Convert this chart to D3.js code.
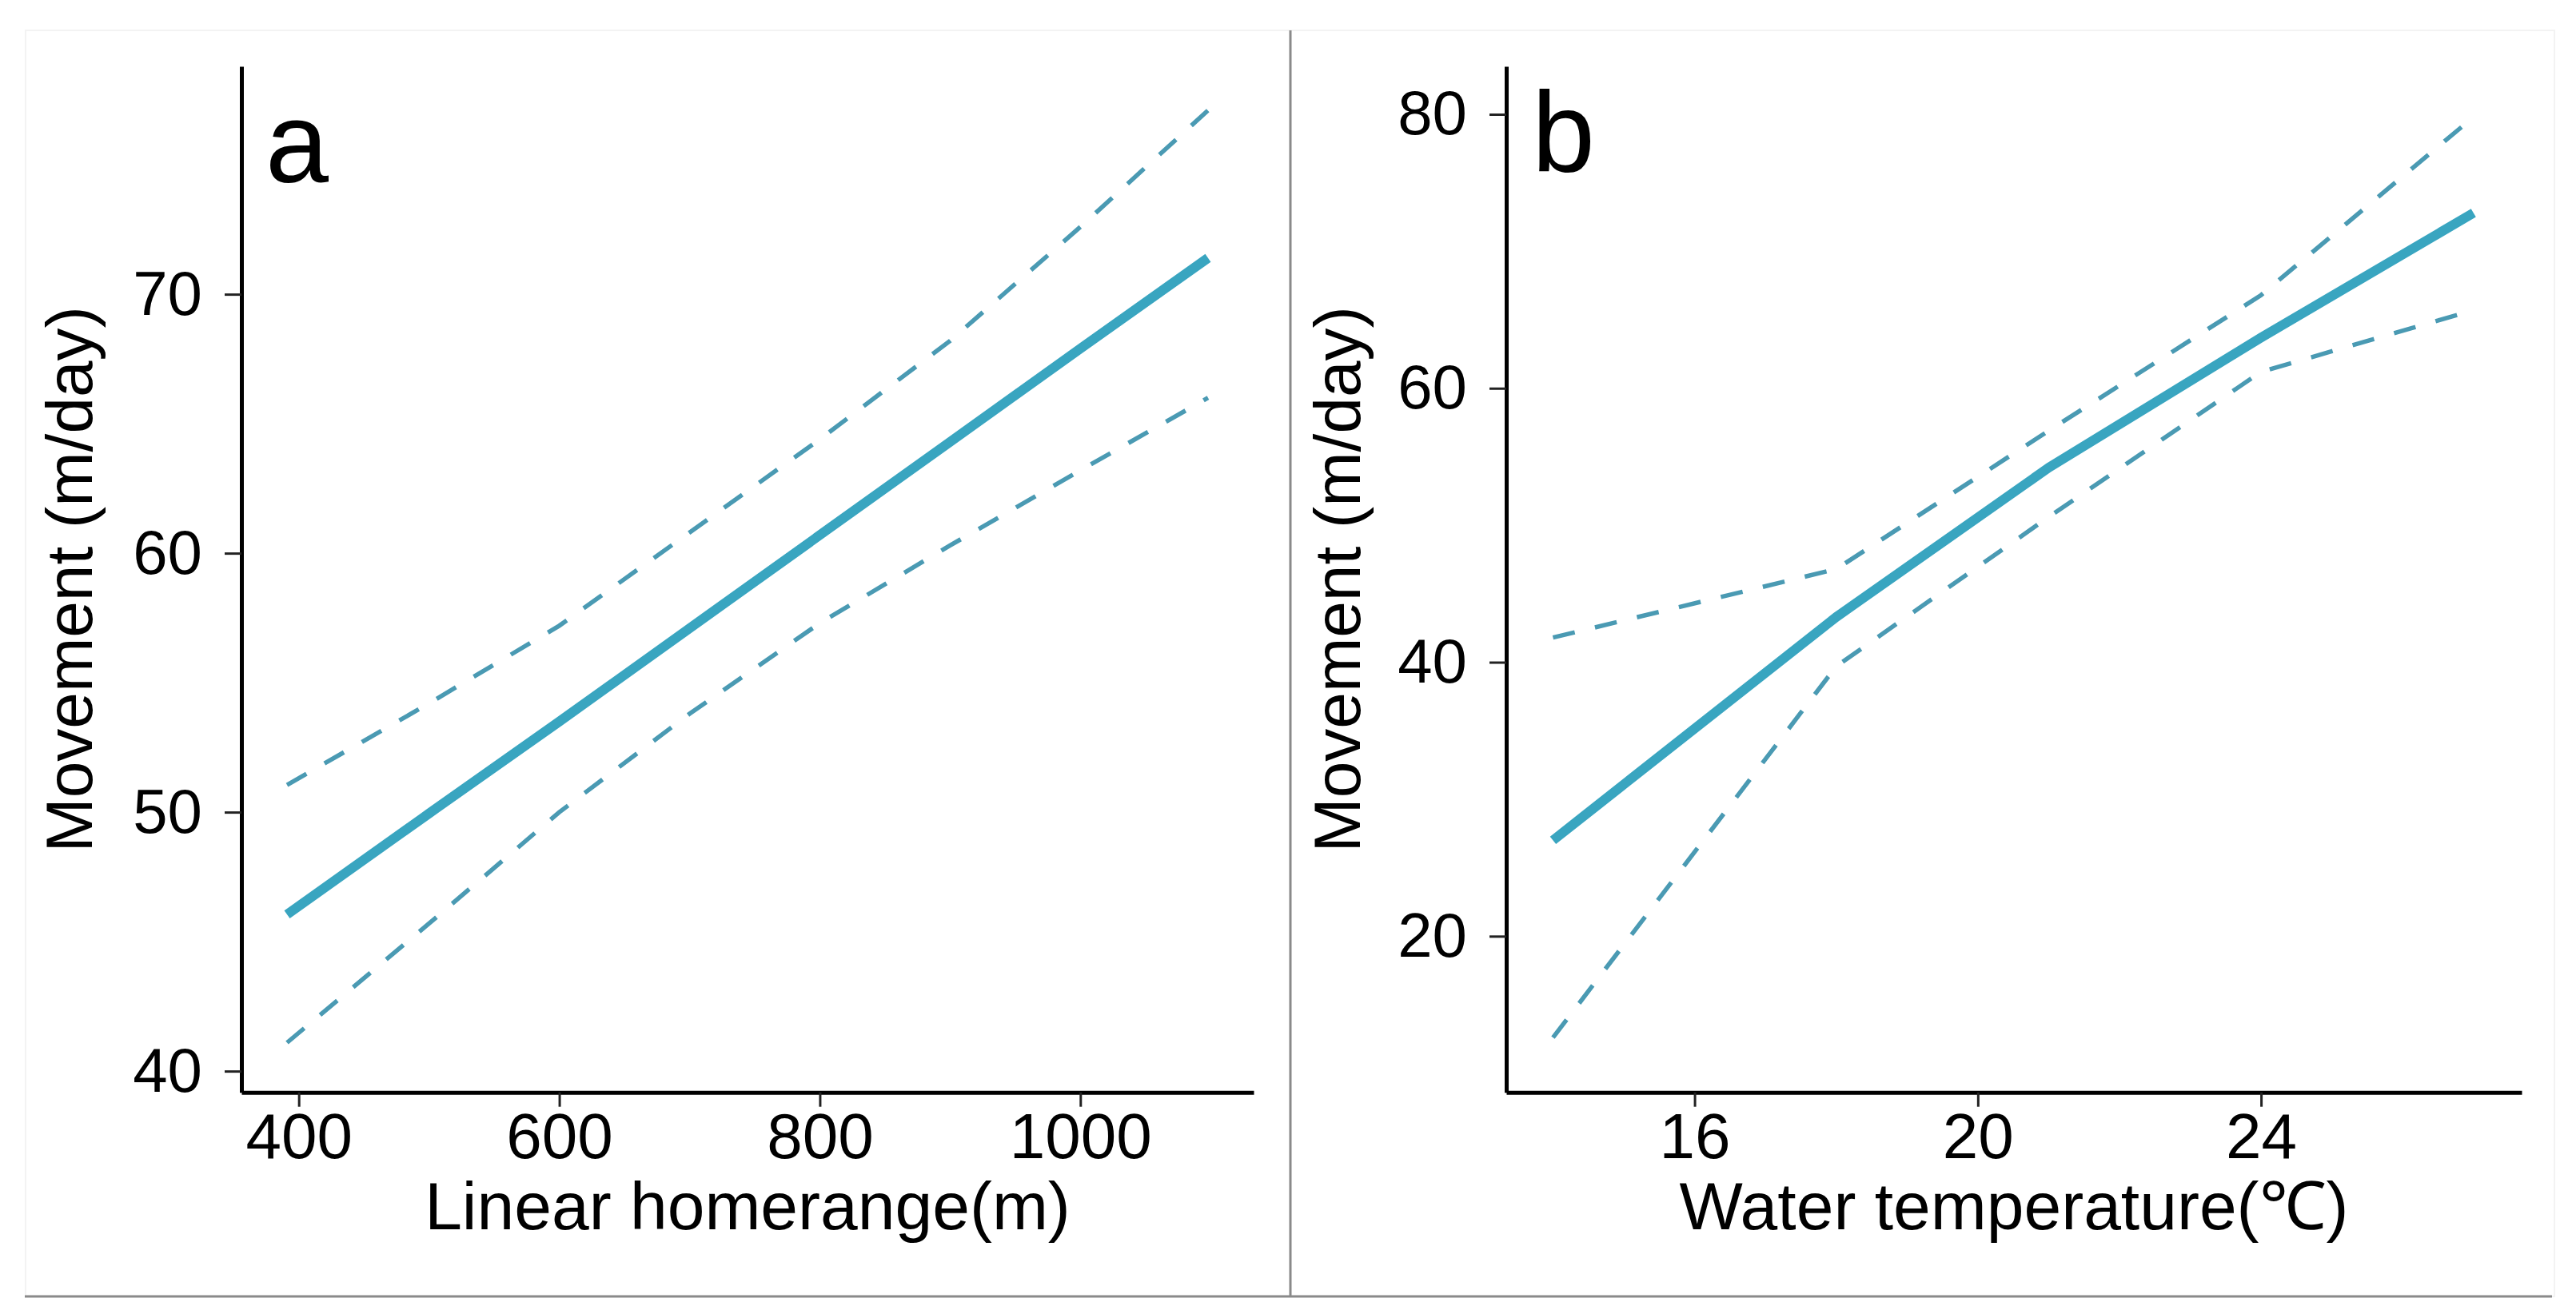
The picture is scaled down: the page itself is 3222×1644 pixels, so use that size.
<!DOCTYPE html>
<html>
<head>
<meta charset="utf-8">
<script src="https://cdn.jsdelivr.net/npm/d3@7"></script>
<style>
  html, body { margin: 0; padding: 0; background: #fff; }
  svg { display: block; }
  text { font-family: "Liberation Sans", Arial, sans-serif; fill: #000; }
</style>
</head>
<body>
<svg id="chart" width="3222" height="1644"></svg>
<script>
// ---- Data ----
// Panel a: Linear homerange (m)
const homerange = [391, 500, 600, 700, 800, 900, 1000, 1098];
const movementA = [46.05, 49.95, 53.5, 57.1, 60.7, 64.3, 67.9, 71.4];
const upperA    = [51.05, 54.2, 57.2, 60.8, 64.4, 68.2, 72.6, 77.1];
const lowerA    = [41.1, 45.7, 50.0, 53.8, 57.3, 60.3, 63.2, 66.0];
const xTicksA = [400, 600, 800, 1000];
const yTicksA = [40, 50, 60, 70];

// Panel b: Water temperature (°C)
const temperature = [14, 18, 21, 24, 27];
const movementB   = [27.0, 43.3, 54.2, 63.7, 72.8];
const upperB      = [41.8, 46.8, 56.9, 66.8, 79.8];
const lowerB      = [12.6, 39.7, 50.6, 61.2, 65.7];
const xTicksB = [16, 20, 24];
const yTicksB = [20, 40, 60, 80];

const svg = d3.select("#chart");
const mainColor = "#39a5c0";
const ciColor = "#4a9ab3";

// Frame
svg.append("rect").attr("x", 32).attr("y", 38).attr("width", 3163).attr("height", 1584)
  .attr("fill", "none").attr("stroke", "#f3f3f3").attr("stroke-width", 2);
svg.append("line").attr("x1", 31).attr("x2", 3192).attr("y1", 1622).attr("y2", 1622)
  .attr("stroke", "#8a8a8a").attr("stroke-width", 3);
svg.append("line").attr("x1", 1614).attr("x2", 1614).attr("y1", 38).attr("y2", 1622)
  .attr("stroke", "#8a8a8a").attr("stroke-width", 3);

function panel(cfg) {
  const x = d3.scaleLinear().domain(cfg.xDomain).range([cfg.left, cfg.right]);
  const y = d3.scaleLinear().domain(cfg.yDomain).range([cfg.bottom, cfg.top]);
  const g = svg.append("g");

  const line = d3.line().x(d => x(d[0])).y(d => y(d[1]));
  const series = (ys) => cfg.xs.map((v, i) => [v, ys[i]]);

  g.append("path").datum(series(cfg.upper)).attr("d", line)
    .attr("fill", "none").attr("stroke", ciColor).attr("stroke-width", 5.5)
    .attr("stroke-dasharray", "28,26");
  g.append("path").datum(series(cfg.lower)).attr("d", line)
    .attr("fill", "none").attr("stroke", ciColor).attr("stroke-width", 5.5)
    .attr("stroke-dasharray", "28,26");
  g.append("path").datum(series(cfg.main)).attr("d", line)
    .attr("fill", "none").attr("stroke", mainColor).attr("stroke-width", 12)
    .attr("stroke-linejoin", "round");

  // Y axis
  const ya = g.append("g").attr("transform", `translate(${cfg.left},0)`)
    .call(d3.axisLeft(y).tickValues(cfg.yTicks).tickFormat(d3.format("d"))
      .tickSize(21).tickSizeOuter(0).tickPadding(28));
  ya.select(".domain").attr("stroke", "#000").attr("stroke-width", 5);
  ya.selectAll(".tick line").attr("stroke", "#222").attr("stroke-width", 3);
  ya.selectAll(".tick text").attr("font-size", 78).attr("font-family", "Liberation Sans, Arial, sans-serif").attr("fill", "#000");

  // X axis
  const xa = g.append("g").attr("transform", `translate(0,${cfg.bottom})`)
    .call(d3.axisBottom(x).tickValues(cfg.xTicks).tickFormat(d3.format("d"))
      .tickSize(18).tickSizeOuter(0).tickPadding(8));
  xa.select(".domain").attr("stroke", "#000").attr("stroke-width", 5);
  xa.selectAll(".tick line").attr("stroke", "#222").attr("stroke-width", 3);
  xa.selectAll(".tick text").attr("font-size", 80).attr("font-family", "Liberation Sans, Arial, sans-serif").attr("fill", "#000");

  // Axis titles
  g.append("text").attr("x", (cfg.left + cfg.right) / 2).attr("y", 1538)
    .attr("text-anchor", "middle").attr("font-size", 84).text(cfg.xTitle);
  g.append("text")
    .attr("transform", `translate(${cfg.yTitleX},${(cfg.top + cfg.bottom) / 2}) rotate(-90)`)
    .attr("text-anchor", "middle").attr("font-size", 82).text("Movement (m/day)");

  // Panel letter
  g.append("text").attr("x", cfg.left + cfg.letterDx).attr("y", cfg.letterY)
    .attr("font-size", 142).text(cfg.letter);
}

panel({
  xs: homerange, main: movementA, upper: upperA, lower: lowerA,
  xDomain: [356, 1133], yDomain: [39.18, 78.8],
  left: 302, right: 1568, top: 83, bottom: 1366.7,
  xTicks: xTicksA, yTicks: yTicksA,
  xTitle: "Linear homerange(m)", yTitleX: 115,
  letter: "a", letterDx: 30, letterY: 228
});

panel({
  xs: temperature, main: movementB, upper: upperB, lower: lowerB,
  xDomain: [13.34, 27.68], yDomain: [8.6, 83.5],
  left: 1884, right: 3154, top: 83, bottom: 1366.7,
  xTicks: xTicksB, yTicks: yTicksB,
  xTitle: "Water temperature(℃)", yTitleX: 1701,
  letter: "b", letterDx: 32, letterY: 215
});
</script>
</body>
</html>
